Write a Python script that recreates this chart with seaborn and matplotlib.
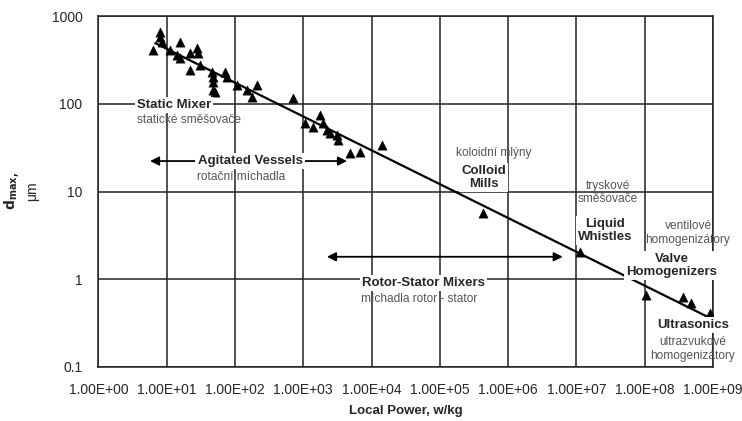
import numpy as np
import pandas as pd
import matplotlib
matplotlib.use("Agg")
import matplotlib.pyplot as plt
import seaborn as sns

# measured points (local power in W/kg, maximum drop size in um)
power = [8.0, 8.0, 8.5, 6.3, 15.7, 11.2, 14.2, 15.7, 21.9, 27.8, 28.7, 21.9, 30.7,
         46, 47.6, 47.6, 47.6, 71.4, 76.4, 107, 150, 210, 177, 51, 705,
         1057, 1384, 1754, 1941, 2222, 2459, 3113, 3222, 4826, 6761, 14190,
         4.28e5, 1.12e7, 1.04e8, 3.63e8, 4.75e8, 9.0e8]
dmax = [662, 581, 505, 412, 505, 412, 361, 334, 381, 434, 381, 244, 278,
        231, 203, 178, 144, 231, 203, 164, 144, 164, 120, 137, 117,
        60.5, 54.5, 74.6, 60.5, 50.3, 46.6, 44.2, 38.7, 27.5, 28.2, 34,
        5.69, 2.04, 0.66, 0.62, 0.53, 0.41]

# trend line ends
trend_power = [6.8, 9.0e8]
trend_dmax = [495, 0.36]

x_ticks = [1e0, 1e1, 1e2, 1e3, 1e4, 1e5, 1e6, 1e7, 1e8, 1e9]
x_tick_labels = ["1.00E+00", "1.00E+01", "1.00E+02", "1.00E+03", "1.00E+04",
                 "1.00E+05", "1.00E+06", "1.00E+07", "1.00E+08", "1.00E+09"]
y_ticks = [0.1, 1, 10, 100, 1000]
y_tick_labels = ["0.1", "1", "10", "100", "1000"]

# bold equipment labels: text, power, dmax, alignment
bold_labels = [
    ("Static Mixer", 3.67, 97, "left"),
    ("Agitated Vessels", 166, 22.3, "center"),
    ("Colloid\nMills", 4.4e5, 14.4, "center"),
    ("Liquid\nWhistles", 2.6e7, 3.63, "center"),
    ("Valve\nHomogenizers", 2.5e8, 1.43, "center"),
    ("Rotor-Stator Mixers", 5.72e4, 0.91, "center"),
    ("Ultrasonics", 5.07e8, 0.30, "center"),
]
# czech labels
czech_labels = [
    ("statické směšovače", 3.67, 65.5, "left"),
    ("rotační míchadla", 125, 14.8, "center"),
    ("koloidní mlýny", 6.1e5, 27.3, "center"),
    ("tryskové\nsměšovače", 2.9e7, 9.74, "center"),
    ("ventilové\nhomogenizátory", 4.3e8, 3.33, "center"),
    ("míchadla rotor - stator", 4.94e4, 0.588, "center"),
    ("ultrazvukové\nhomogenizátory", 5.07e8, 0.159, "center"),
]
# range arrows: start power, end power, dmax
arrows = [
    (5.7, 4370, 22.3),
    (2222, 6.3e6, 1.8),
]

sns.set_style("white")
plt.rcParams["font.family"] = ["Liberation Sans", "DejaVu Sans"]

df = pd.DataFrame({"power": power, "dmax": dmax})
trend = pd.DataFrame({"power": trend_power, "dmax": trend_dmax})

fig, ax = plt.subplots(figsize=(7.42, 4.21), dpi=100)
fig.subplots_adjust(left=0.1326, right=0.961, bottom=0.129, top=0.961)
ax.set_xscale("log")
ax.set_yscale("log")

sns.lineplot(data=trend, x="power", y="dmax", color="black", lw=1.6, ax=ax, zorder=3)
sns.scatterplot(data=df, x="power", y="dmax", marker="^", color="black",
                s=45, edgecolor="black", linewidth=0.3, ax=ax, zorder=4)

ax.set_xlim(1, 1e9)
ax.set_ylim(0.1, 1000)
ax.set_xticks(x_ticks)
ax.set_xticklabels(x_tick_labels)
ax.set_yticks(y_ticks)
ax.set_yticklabels(y_tick_labels)
ax.minorticks_off()
ax.grid(True, color="#222222", lw=1.1, zorder=0)
ax.set_axisbelow(True)
ax.tick_params(direction="out", length=8.5, width=1.1, color="#222222",
               labelsize=10, pad=3)
for sp in ax.spines.values():
    sp.set_color("#222222")
    sp.set_linewidth(1.1)

ax.set_xlabel("Local Power, w/kg", fontsize=9.5, fontweight="bold", labelpad=6)
ax.set_ylabel(r"$\mathbf{d_{max,}}$" + "\nμm", fontsize=10, labelpad=9,
              linespacing=1.3)

for p0, p1, d in arrows:
    ax.annotate("", xy=(p1, d), xytext=(p0, d),
                arrowprops=dict(arrowstyle="<|-|>", color="black", lw=1.3,
                                mutation_scale=13, shrinkA=0, shrinkB=0),
                zorder=4)

for txt, p, d, ha in bold_labels:
    ax.text(p, d, txt, ha=ha, va="center", fontsize=9.5, fontweight="bold",
            linespacing=1.1, zorder=6,
            bbox=dict(facecolor="white", edgecolor="none", pad=1.5))

for txt, p, d, ha in czech_labels:
    ax.text(p, d, txt, ha=ha, va="center", fontsize=8.6, color="#555555",
            linespacing=1.2, zorder=5)

fig.savefig("out.png", dpi=100)
